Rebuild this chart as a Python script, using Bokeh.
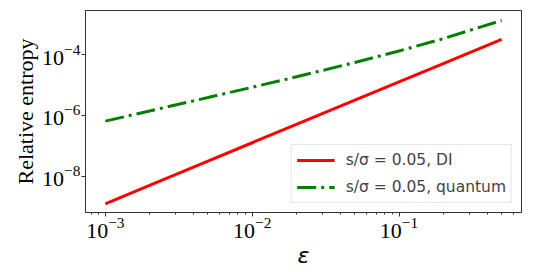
from bokeh.plotting import figure
from bokeh.models import Range1d, FixedTicker, Legend, LegendItem
from bokeh.embed import file_html
from bokeh.resources import INLINE

# data
eps = [0.001, 0.002, 0.005, 0.01, 0.02, 0.05, 0.1, 0.2, 0.5]
re_di = [1.25e-9, 5.0e-9, 3.15e-8, 1.27e-7, 5.1e-7, 3.2e-6, 1.28e-5, 5.1e-5, 3.2e-4]
re_quantum = [6.54e-7, 1.41e-6, 3.90e-6, 8.49e-6, 1.87e-5, 5.55e-5, 1.32e-4, 3.37e-4, 1.33e-3]
label_di = "s/σ = 0.05, DI"
label_q = "s/σ = 0.05, quantum"
x_ticks = [1e-3, 1e-2, 1e-1]
x_minor = [7e-4, 8e-4, 9e-4, 2e-3, 3e-3, 4e-3, 5e-3, 6e-3, 7e-3, 8e-3, 9e-3,
           2e-2, 3e-2, 4e-2, 5e-2, 6e-2, 7e-2, 8e-2, 9e-2, 2e-1, 3e-1, 4e-1, 5e-1, 6e-1]
y_ticks = [1e-8, 1e-6, 1e-4]

p = figure(width=536, height=270, x_axis_type="log", y_axis_type="log",
           output_backend="svg", toolbar_location=None,
           x_range=Range1d(10 ** -3.135, 10 ** -0.166),
           y_range=Range1d(10 ** -9.19, 10 ** -2.547),
           min_border_left=85, min_border_right=15, min_border_top=10, min_border_bottom=58)
p.background_fill_color = "white"
p.border_fill_color = "white"
p.grid.visible = False
p.outline_line_color = "#333333"
p.outline_line_width = 1

r1 = p.line(eps, re_di, line_color="#ff0000", line_width=3)
r2 = p.line(eps, re_quantum, line_color="#008000", line_width=3, line_dash="19 5 3 5")

for ax in (p.xaxis, p.yaxis):
    ax.axis_line_color = "#333333"
    ax.major_tick_line_color = "#333333"
    ax.minor_tick_line_color = "#333333"
    ax.major_tick_out = 4
    ax.major_tick_in = 0
    ax.minor_tick_out = 2
    ax.minor_tick_in = 0
    ax.major_label_text_font = "Liberation Serif"
    ax.major_label_text_font_size = "22px"
    ax.major_label_text_color = "black"
    ax.major_label_standoff = 1
    ax.axis_label_text_color = "black"

p.xaxis.ticker = FixedTicker(ticks=x_ticks, minor_ticks=x_minor)
p.yaxis.ticker = FixedTicker(ticks=y_ticks, minor_ticks=[])

p.xaxis.axis_label = "ε"
p.xaxis.axis_label_text_font = "DejaVu Sans"
p.xaxis.axis_label_text_font_style = "italic"
p.xaxis.axis_label_text_font_size = "22px"
p.xaxis.axis_label_standoff = 2

p.yaxis.axis_label = "Relative entropy"
p.yaxis.axis_label_text_font = "Liberation Serif"
p.yaxis.axis_label_text_font_style = "normal"
p.yaxis.axis_label_text_font_size = "22px"
p.yaxis.axis_label_standoff = 1

legend = Legend(items=[LegendItem(label=label_di, renderers=[r1]),
                       LegendItem(label=label_q, renderers=[r2])],
                location="bottom_right")
legend.label_text_font = "DejaVu Sans"
legend.label_text_font_size = "15.5px"
legend.glyph_width = 38
legend.glyph_height = 20
legend.label_standoff = 11
legend.padding = 5
legend.spacing = 7
legend.margin = 9
legend.border_line_color = "#cccccc"
legend.background_fill_alpha = 0.8
p.add_layout(legend)

open("out.html", "w").write(file_html(p, INLINE))
